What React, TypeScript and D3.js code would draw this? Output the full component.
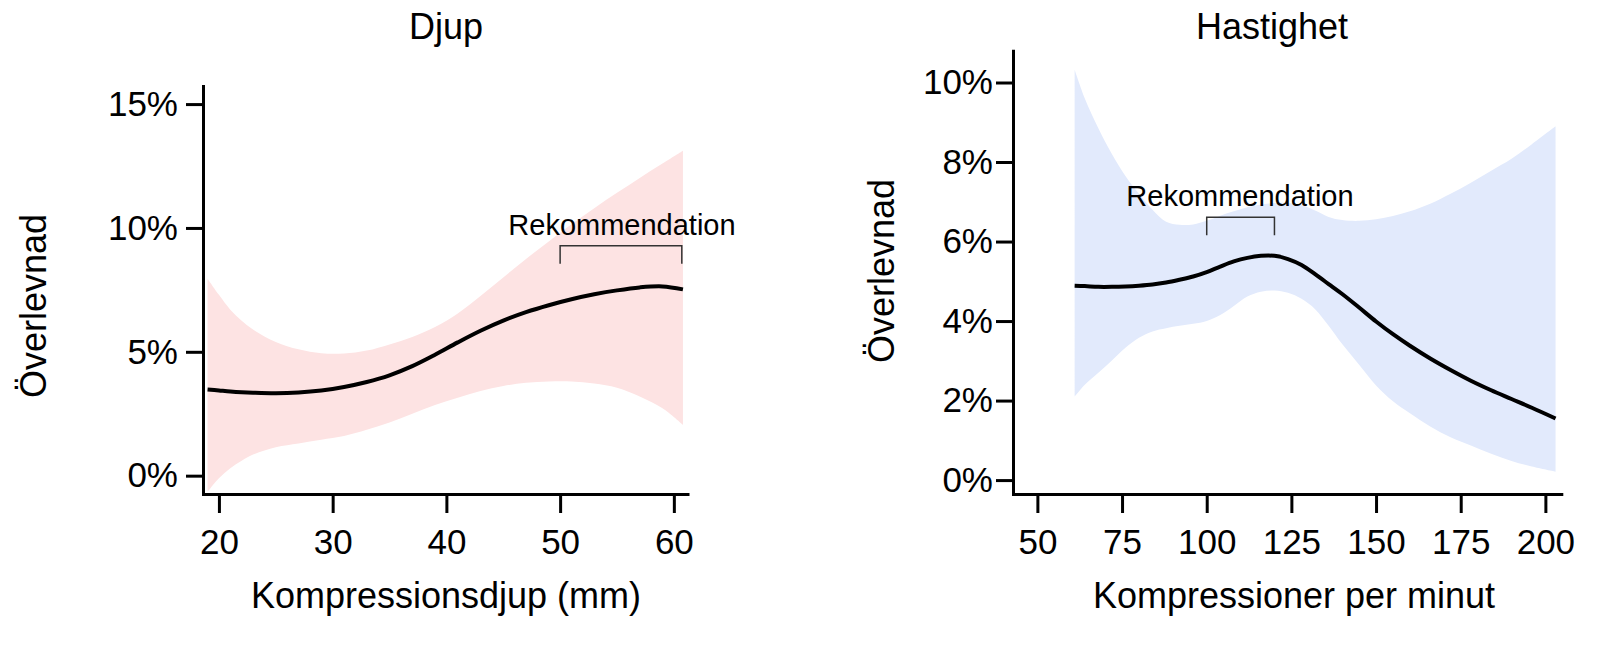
import { useEffect, useRef } from 'react';
import * as d3 from 'd3';

// Djup: compression depth (mm) vs survival (%)
const depthMm = [19, 20, 21, 22, 23, 25, 27, 29, 31, 33, 35, 37, 39, 41, 43, 45, 47, 49, 51, 53, 55, 57, 59, 60.8];
const depthFit = [3.48, 3.44, 3.4, 3.37, 3.35, 3.33, 3.36, 3.44, 3.58, 3.78, 4.05, 4.42, 4.88, 5.38, 5.85, 6.26, 6.6, 6.88, 7.12, 7.32, 7.48, 7.6, 7.64, 7.52];
const depthLower = [-0.65, -0.1, 0.3, 0.6, 0.85, 1.15, 1.3, 1.45, 1.6, 1.85, 2.15, 2.5, 2.85, 3.15, 3.42, 3.62, 3.75, 3.8, 3.8, 3.72, 3.55, 3.2, 2.72, 2.05];
const depthUpper = [7.95, 7.3, 6.7, 6.25, 5.9, 5.4, 5.1, 4.94, 4.93, 5.05, 5.3, 5.6, 6.0, 6.55, 7.25, 8.0, 8.75, 9.45, 10.15, 10.8, 11.42, 12.02, 12.6, 13.12];
const depthTicks = [20, 30, 40, 50, 60];
const depthPctTicks = [0, 5, 10, 15];
const depthReco = [50, 60.7];

// Hastighet: compressions per minute vs survival (%)
const rateCpm = [61, 64, 68, 72, 76, 80, 84, 88, 92, 96, 100, 104, 108, 112, 116, 120, 124, 128, 132, 136, 140, 145, 150, 155, 160, 166, 172, 178, 184, 190, 196, 203];
const rateFit = [4.89, 4.88, 4.86, 4.86, 4.87, 4.89, 4.92, 4.97, 5.04, 5.12, 5.23, 5.37, 5.5, 5.59, 5.64, 5.64, 5.56, 5.41, 5.18, 4.93, 4.68, 4.34, 3.99, 3.67, 3.38, 3.06, 2.77, 2.5, 2.26, 2.04, 1.82, 1.55];
const rateLower = [2.1, 2.4, 2.7, 3.01, 3.33, 3.58, 3.74, 3.82, 3.88, 3.93, 4.0, 4.15, 4.38, 4.62, 4.74, 4.77, 4.71, 4.56, 4.3, 3.88, 3.42, 2.9, 2.38, 1.98, 1.68, 1.35, 1.08, 0.87, 0.66, 0.48, 0.34, 0.21];
const rateUpper = [10.32, 9.6, 8.85, 8.2, 7.65, 7.2, 6.8, 6.5, 6.42, 6.43, 6.52, 6.65, 6.76, 6.86, 6.93, 6.97, 6.97, 6.92, 6.78, 6.62, 6.54, 6.52, 6.56, 6.64, 6.76, 6.95, 7.2, 7.48, 7.78, 8.08, 8.45, 8.9];
const rateTicks = [50, 75, 100, 125, 150, 175, 200];
const ratePctTicks = [0, 2, 4, 6, 8, 10];
const rateReco = [100, 120];

const FONT = '"Liberation Sans", Arial, Helvetica, sans-serif';

interface Panel {
  title: string;
  xLabel: string;
  xs: number[];
  fit: number[];
  lower: number[];
  upper: number[];
  xTicks: number[];
  yTicks: number[];
  reco: number[];
  fill: string;
  xDomain: [number, number];
  xRange: [number, number];
  yDomain: [number, number];
  yRange: [number, number];
  yPad: number;
  titleX: number;
  xLabelX: number;
  yLabelX: number;
  yLabelY: number;
  recoY: number;
  recoTextX: number;
}

const panels: Panel[] = [
  {
    title: 'Djup',
    xLabel: 'Kompressionsdjup (mm)',
    xs: depthMm,
    fit: depthFit,
    lower: depthLower,
    upper: depthUpper,
    xTicks: depthTicks,
    yTicks: depthPctTicks,
    reco: depthReco,
    fill: '#fde3e3',
    xDomain: [18.6, 61.2],
    xRange: [203, 687.5],
    yDomain: [-0.74, 15.73],
    yRange: [494, 86],
    yPad: 8,
    titleX: 446,
    xLabelX: 446,
    yLabelX: 46,
    yLabelY: 306,
    recoY: 9.28,
    recoTextX: 622,
  },
  {
    title: 'Hastighet',
    xLabel: 'Kompressioner per minut',
    xs: rateCpm,
    fit: rateFit,
    lower: rateLower,
    upper: rateUpper,
    xTicks: rateTicks,
    yTicks: ratePctTicks,
    reco: rateReco,
    fill: '#e2eafc',
    xDomain: [42.8, 204.7],
    xRange: [1013, 1561.3],
    yDomain: [-0.35, 10.8],
    yRange: [494, 50.7],
    yPad: 3,
    titleX: 1272,
    xLabelX: 1294,
    yLabelX: 894,
    yLabelY: 271,
    recoY: 6.61,
    recoTextX: 1240,
  },
];

type Row = { x: number; fit: number; lo: number; hi: number };

function drawPanel(root: d3.Selection<SVGSVGElement, unknown, null, undefined>, p: Panel) {
  const g = root.append('g');
  const x = d3.scaleLinear().domain(p.xDomain).range(p.xRange);
  const y = d3.scaleLinear().domain(p.yDomain).range(p.yRange);
  const rows: Row[] = p.xs.map((v, i) => ({ x: v, fit: p.fit[i], lo: p.lower[i], hi: p.upper[i] }));

  const band = d3
    .area<Row>()
    .x((d) => x(d.x))
    .y0((d) => y(d.lo))
    .y1((d) => y(d.hi))
    .curve(d3.curveCatmullRom.alpha(0.5));

  g.append('path').datum(rows).attr('fill', p.fill).attr('d', band);

  const line = d3
    .line<Row>()
    .x((d) => x(d.x))
    .y((d) => y(d.fit))
    .curve(d3.curveCatmullRom.alpha(0.5));

  g.append('path')
    .datum(rows)
    .attr('fill', 'none')
    .attr('stroke', '#000')
    .attr('stroke-width', 4)
    .attr('d', line);

  // recommendation bracket
  const bx0 = x(p.reco[0]);
  const bx1 = x(p.reco[1]);
  const by = y(p.recoY);
  g.append('path')
    .attr('d', `M${bx0},${by + 18}V${by}H${bx1}V${by + 18}`)
    .attr('fill', 'none')
    .attr('stroke', '#333')
    .attr('stroke-width', 1.5);
  g.append('text')
    .attr('x', p.recoTextX)
    .attr('y', by - 11)
    .attr('text-anchor', 'middle')
    .attr('font-family', FONT)
    .attr('font-size', 29)
    .text('Rekommendation');

  // axes
  const xAxis = g
    .append('g')
    .attr('transform', `translate(0,${p.yRange[0]})`)
    .call(
      d3
        .axisBottom(x)
        .tickValues(p.xTicks)
        .tickSize(19)
        .tickSizeOuter(0)
        .tickPadding(16)
        .tickFormat(d3.format('d')),
    );
  const yAxis = g
    .append('g')
    .attr('transform', `translate(${p.xRange[0]},0)`)
    .call(
      d3
        .axisLeft(y)
        .tickValues(p.yTicks)
        .tickSize(17)
        .tickSizeOuter(0)
        .tickPadding(p.yPad)
        .tickFormat((d) => `${d}%`),
    );

  [xAxis, yAxis].forEach((a) => {
    a.attr('font-family', FONT).attr('font-size', 35);
    a.select('.domain').attr('stroke', '#000').attr('stroke-width', 3).attr('stroke-linecap', 'square');
    a.selectAll('.tick line').attr('stroke', '#000').attr('stroke-width', 3);
    a.selectAll('.tick text').attr('fill', '#000');
  });

  // titles
  g.append('text')
    .attr('x', p.titleX)
    .attr('y', 39)
    .attr('text-anchor', 'middle')
    .attr('font-family', FONT)
    .attr('font-size', 36)
    .text(p.title);

  g.append('text')
    .attr('x', p.xLabelX)
    .attr('y', 608)
    .attr('text-anchor', 'middle')
    .attr('font-family', FONT)
    .attr('font-size', 36)
    .text(p.xLabel);

  g.append('text')
    .attr('transform', `translate(${p.yLabelX},${p.yLabelY}) rotate(-90)`)
    .attr('text-anchor', 'middle')
    .attr('font-family', FONT)
    .attr('font-size', 36)
    .text('Överlevnad');
}

export default function App() {
  const svgRef = useRef<SVGSVGElement>(null);

  useEffect(() => {
    if (!svgRef.current) return;
    const svg = d3.select(svgRef.current);
    svg.selectAll('*').remove();
    svg.append('rect').attr('width', 1600).attr('height', 652).attr('fill', '#fff');
    panels.forEach((p) => drawPanel(svg, p));
  }, []);

  return (
    <>
      <style>{'body{margin:0;background:#fff}'}</style>
      <svg ref={svgRef} width={1600} height={652} style={{ display: 'block' }} />
    </>
  );
}
